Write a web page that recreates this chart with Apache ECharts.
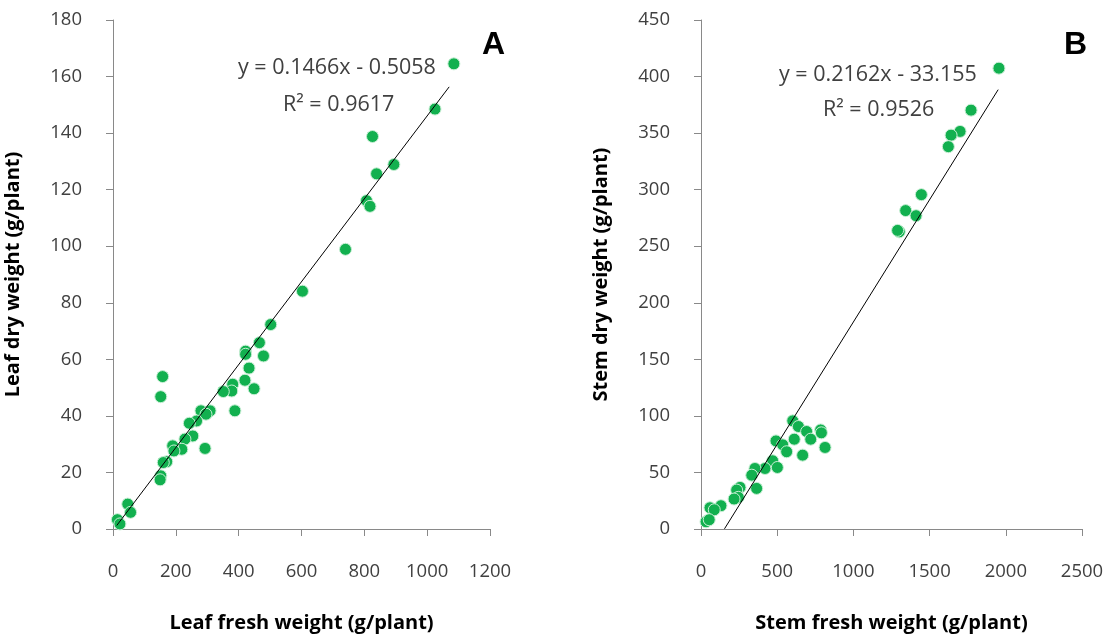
<!DOCTYPE html>
<html>
<head>
<meta charset="utf-8">
<script src="https://cdn.jsdelivr.net/npm/echarts@6/dist/echarts.min.js"></script>
<style>
  html, body { margin: 0; padding: 0; background: #fff; }
  #chart { width: 1109px; height: 638px; }
</style>
</head>
<body>
<div id="chart"></div>
<script>
// panel A: leaf fresh vs dry weight (g/plant)
const leafFresh = [1085, 1025, 826, 894, 839, 807, 818, 740, 603, 502, 466, 479, 422, 422, 433, 420, 449, 381, 378, 351, 388,
  158, 152, 280, 309, 296, 266, 243, 254, 229, 219, 190, 194, 293, 171, 160, 152, 150, 47, 56, 14, 22]
const leafDry = [164.5, 148.5, 138.8, 128.9, 125.6, 116.1, 114.1, 98.9, 84.1, 72.3, 65.9, 61.2, 62.9, 61.8, 56.9, 52.6, 49.6, 51.2, 48.8, 48.6, 41.8,
  53.9, 46.8, 41.8, 41.8, 40.6, 38.2, 37.4, 32.9, 31.8, 28.2, 29.4, 27.6, 28.5, 23.8, 23.5, 18.8, 17.4, 8.8, 5.9, 3.3, 1.8]

// panel B: stem fresh vs dry weight (g/plant)
const stemFresh = [1955, 1772, 1700, 1641, 1623, 1446, 1343, 1411, 1301, 1290,
  602, 639, 693, 785, 790, 720, 612, 492, 536, 814, 562, 667, 470, 420, 501, 354, 333, 365, 256, 234, 245, 217, 131, 59, 87, 33, 54]
const stemDry = [407.4, 370.3, 351.5, 348.2, 338, 295.6, 281.5, 277, 262.7, 264,
  95.6, 90.6, 86.2, 87.6, 85, 79.4, 79.4, 77.9, 74.4, 72.1, 68.3, 65.3, 60.3, 53.5, 54.4, 53.5, 47.6, 35.9, 36.8, 34.4, 28, 26.5, 20.6, 18.8, 17, 6.4, 8.2]

// linear trendlines: [slope, intercept, xStart, xEnd]
const trendA = [0.1466, -0.5058, 12, 1070]
const trendB = [0.2162, -33.155, 154, 1950]

// axis ranges: [min, max, interval]
const xTicksA = [0, 1200, 200]
const yTicksA = [0, 180, 20]
const xTicksB = [0, 2500, 500]
const yTicksB = [0, 450, 50]

const eqA = ['y = 0.1466x - 0.5058', 'R² = 0.9617']
const eqB = ['y = 0.2162x - 33.155', 'R² = 0.9526']

const pairs = (xs, ys) => xs.map((x, i) => [x, ys[i]])
const trendPts = t => [[t[2], t[0] * t[2] + t[1]], [t[3], t[0] * t[3] + t[1]]]

const axisGray = '#898989'
const textColor = '#404040'
const font = '"Open Sans", "Noto Sans", sans-serif'

const titleStyle = { fontFamily: font, fontWeight: 'bold', fontSize: 20, color: '#000' }

const makeX = (idx, ticks, name) => ({
  type: 'value', gridIndex: idx, min: ticks[0], max: ticks[1], interval: ticks[2],
  name, nameLocation: 'middle', nameGap: 84, nameTextStyle: titleStyle,
  axisLine: { show: true, lineStyle: { color: axisGray } },
  axisTick: { show: true, length: 7, lineStyle: { color: axisGray } },
  axisLabel: { margin: 33, fontFamily: font, fontSize: 18.5, color: textColor, formatter: v => String(v) },
  splitLine: { show: false },
})
const makeY = (idx, ticks, name) => ({
  type: 'value', gridIndex: idx, min: ticks[0], max: ticks[1], interval: ticks[2],
  name, nameLocation: 'middle', nameGap: 90, nameTextStyle: titleStyle,
  axisLine: { show: true, lineStyle: { color: axisGray } },
  axisTick: { show: true, length: 7, lineStyle: { color: axisGray } },
  axisLabel: { margin: 31, fontFamily: font, fontSize: 18.5, color: textColor },
  splitLine: { show: false },
})

const dots = (idx, data) => ({
  type: 'scatter', xAxisIndex: idx, yAxisIndex: idx, data, symbolSize: 12,
  itemStyle: { color: '#12b04f', borderColor: '#c8efd5', borderWidth: 1, opacity: 1 },
  z: 3,
})
const trend = (idx, t) => ({
  type: 'line', xAxisIndex: idx, yAxisIndex: idx, data: trendPts(t),
  symbol: 'none', lineStyle: { color: '#000', width: 1 }, z: 4, silent: true,
})

const eqText = (x, y, text) => ({
  type: 'text', left: x, top: y,
  style: { text, font: '21.5px "Open Sans", sans-serif', fill: textColor },
})
const letter = (x, y, text) => ({
  type: 'text', left: x, top: y,
  style: { text, font: 'bold 32px "Liberation Sans", sans-serif', fill: '#000' },
})

const chart = echarts.init(document.getElementById('chart'))
chart.setOption({
  animation: false,
  backgroundColor: '#fff',
  grid: [
    { left: 113, top: 20, width: 377, height: 510 },
    { left: 701, top: 20, width: 381, height: 510 },
  ],
  xAxis: [
    makeX(0, xTicksA, 'Leaf fresh weight (g/plant)'),
    makeX(1, xTicksB, 'Stem fresh weight (g/plant)'),
  ],
  yAxis: [
    makeY(0, yTicksA, 'Leaf dry weight (g/plant)'),
    makeY(1, yTicksB, 'Stem dry weight (g/plant)'),
  ],
  series: [
    dots(0, pairs(leafFresh, leafDry)),
    trend(0, trendA),
    dots(1, pairs(stemFresh, stemDry)),
    trend(1, trendB),
  ],
  graphic: [
    eqText(238, 57, eqA[0]),
    eqText(283, 94, eqA[1]),
    letter(482, 29, 'A'),
    eqText(779, 64, eqB[0]),
    eqText(823, 99, eqB[1]),
    letter(1064, 29, 'B'),
  ],
})
</script>
</body>
</html>
